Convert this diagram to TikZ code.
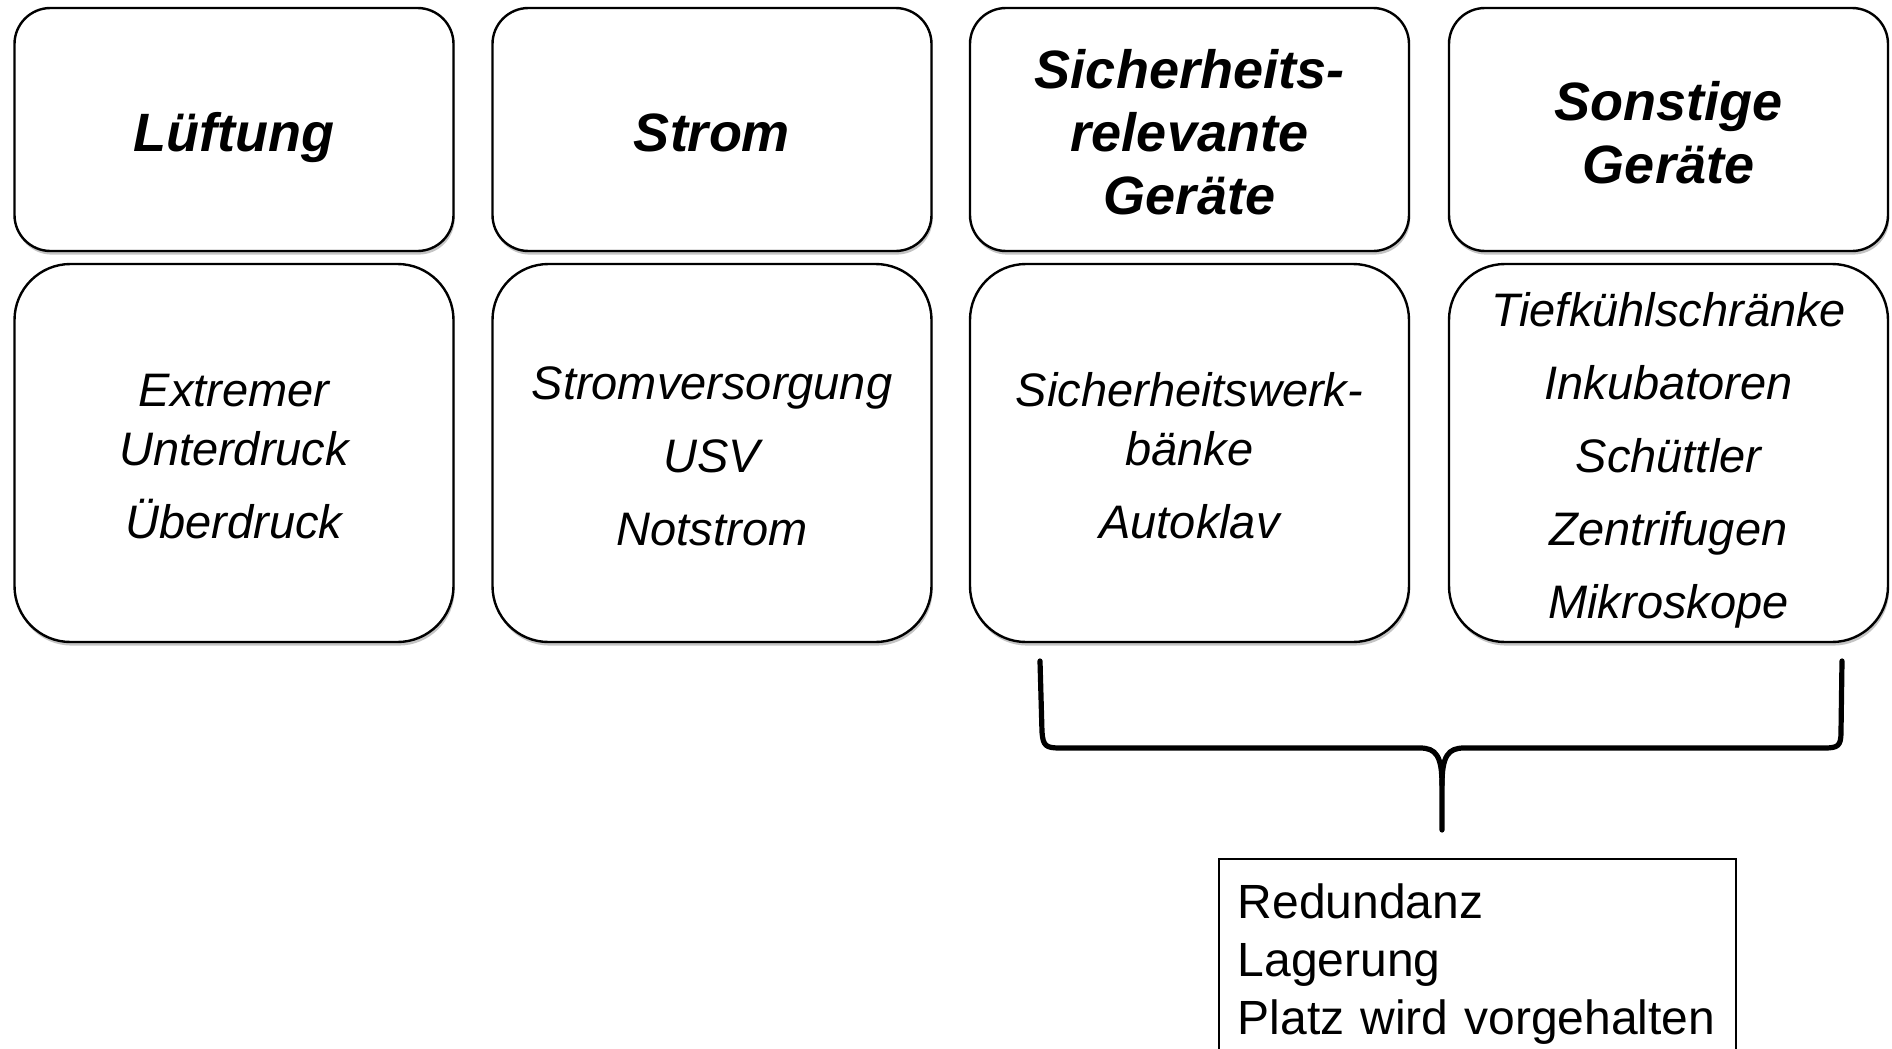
\documentclass[tikz,border=0pt]{standalone}
\usepackage{fontspec}
\setmainfont{Liberation Sans}
\usetikzlibrary{positioning, shadows}
\definecolor{cshadow}{HTML}{8A8A8A}
\newcommand{\hdstrut}{\rule{0pt}{28.3pt}}
\newcommand{\itstrut}{\rule{0pt}{24.2pt}}
\tikzset{
  every picture/.style={line width=1.2pt},
  card/.style={draw, fill=white, rounded corners=#1, align=center, inner sep=0pt, minimum width=219.5pt,
    drop shadow={shadow xshift=0.6pt, shadow yshift=-1.8pt, fill=cshadow, opacity=0.5}},
  head/.style={card=18pt, minimum height=121.5pt, font=\fontsize{27}{31.5}\selectfont\bfseries\itshape,
    execute at end node={\rule[-6pt]{0pt}{6pt}}},
  items/.style={card=28pt, minimum height=189pt, font=\fontsize{23.5}{29.5}\selectfont\itshape,
    execute at end node={\rule[-5pt]{0pt}{5pt}}},
  brace/.style={line width=2.6pt, line join=round, line cap=round},
  note/.style={anchor=north west, align=left, text width=240pt, inner xsep=8.75pt, inner ysep=12pt, font=\fontsize{24}{29}\selectfont},
  frame/.style={line width=1pt},
}

\begin{document}
\begin{tikzpicture}[x=0.5pt, y=-0.5pt]
  \useasboundingbox (0,0) rectangle (1892,1049);
  \node[head] (cat1) at (234,129.5) {\hdstrut Lüftung};
  \node[head] (cat2) at (712,129.5) {\hdstrut Strom};
  \node[head] (cat3) at (1189.5,129.5) {\hdstrut Sicherheits-\\relevante\\Geräte};
  \node[head] (cat4) at (1668.5,129.5) {\hdstrut Sonstige\\Geräte};
  \node[items] (list1) at (234,453) {\itstrut Extremer\\Unterdruck\\[7pt]Überdruck};
  \node[items] (list2) at (712,453) {\itstrut Stromversorgung\\[7pt]USV\\[7pt]Notstrom};
  \node[items] (list3) at (1189.5,453) {\itstrut Sicherheitswerk-\\bänke\\[7pt]Autoklav};
  \node[items] (list4) at (1668.5,453) {\itstrut Tiefkühlschränke\\[7pt]Inkubatoren\\[7pt]Schüttler\\[7pt]Zentrifugen\\[7pt]Mikroskope};
  \coordinate (bl) at (1040,661);
  \coordinate (br) at (1842,661);
  \coordinate (tip) at (1442,830);
  \draw[brace] (bl) -- (1042,732) .. controls (1043,746) and (1046,748) .. (1060,748) -- (1420,748)
    .. controls (1436,748) and (1442,756) .. (1442,785) -- (tip);
  \draw[brace] (1442,785) .. controls (1442,756) and (1448,748) .. (1464,748) -- (1824,748)
    .. controls (1838,748) and (1841,746) .. (1841,732) -- (br);
  \node[note] (note) at (1219,859) {Redundanz\\Lagerung\\Platz wird vorgehalten};
  \draw[frame] (note.north west) rectangle ([yshift=-60pt]note.south east);
\end{tikzpicture}
\end{document}
